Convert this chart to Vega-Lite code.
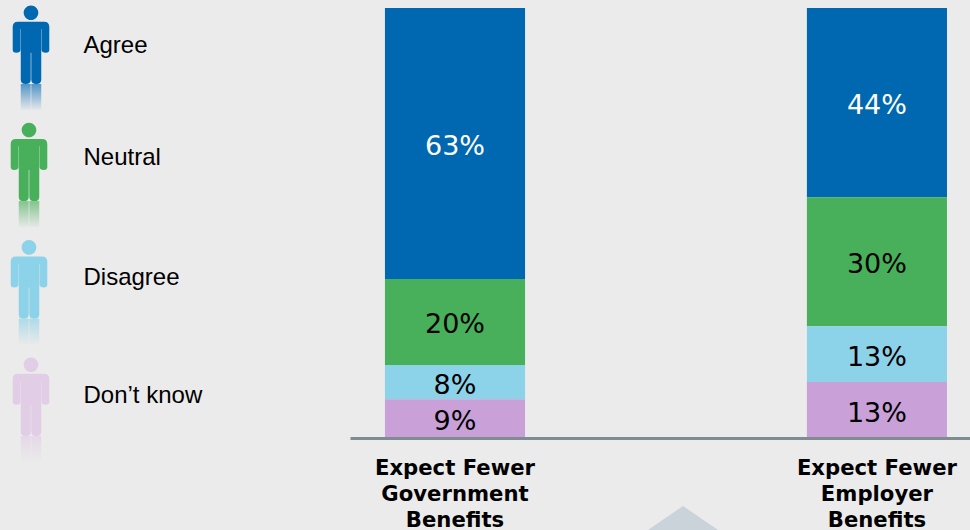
{
  "$schema": "https://vega.github.io/schema/vega-lite/v6.json",
  "background": "#ebebeb",
  "padding": {"left": 0, "right": 0, "top": 5, "bottom": 0},
  "config": {"view": {"stroke": null}},
  "spacing": 0,
  "datasets": {
    "responses": [
      {"response": "Agree", "rank": 1},
      {"response": "Neutral", "rank": 2},
      {"response": "Disagree", "rank": 3},
      {"response": "Don’t know", "rank": 4}
    ],
    "survey": [
      {"benefit": "Expect Fewer|Government|Benefits", "response": "Agree", "rank": 1, "share": 0.63},
      {"benefit": "Expect Fewer|Government|Benefits", "response": "Neutral", "rank": 2, "share": 0.20},
      {"benefit": "Expect Fewer|Government|Benefits", "response": "Disagree", "rank": 3, "share": 0.08},
      {"benefit": "Expect Fewer|Government|Benefits", "response": "Don’t know", "rank": 4, "share": 0.09},
      {"benefit": "Expect Fewer|Employer|Benefits", "response": "Agree", "rank": 1, "share": 0.44},
      {"benefit": "Expect Fewer|Employer|Benefits", "response": "Neutral", "rank": 2, "share": 0.30},
      {"benefit": "Expect Fewer|Employer|Benefits", "response": "Disagree", "rank": 3, "share": 0.13},
      {"benefit": "Expect Fewer|Employer|Benefits", "response": "Don’t know", "rank": 4, "share": 0.13}
    ]
  },
  "hconcat": [
    {
      "width": 350,
      "height": 430,
      "data": {"name": "responses"},
      "layer": [
        {
          "encoding": {
            "x": {"field": "rank", "type": "quantitative", "axis": null, "scale": {"domain": [1, 2, 3, 4], "range": [31, 29, 29, 31]}},
            "y": {"field": "rank", "type": "quantitative", "axis": null, "scale": {"domain": [1, 2, 3, 4], "range": [37, 154.3, 271.7, 389]}},
            "color": {
              "field": "response",
              "type": "nominal",
              "legend": null,
              "scale": {
                "domain": ["Agree", "Neutral", "Disagree", "Don’t know"],
                "range": ["#0067b1", "#48b05a", "#8cd2e9", "#e1cde5"]
              }
            }
          },
          "layer": [
            {
              "mark": {
                "type": "point",
                "filled": true,
                "opacity": 1,
                "size": 4,
                "shape": "M-7.3,-32.3a7.3,7.3 0 1,0 14.6,0a7.3,7.3 0 1,0 -14.6,0ZM-13,-23.3L13,-23.3Q18.3,-23.3 18.3,-18L18.3,4.7Q18.3,7.7 14.8,7.7Q10.6,7.7 10.6,4.7L10.6,-16L10.25,-16L10.25,34.5Q10.25,39 5.3,39Q0.3,39 0.3,34.5L0.3,7.7L-0.3,7.7L-0.3,34.5Q-0.3,39 -5.3,39Q-10.25,39 -10.25,34.5L-10.25,-16L-10.6,-16L-10.6,4.7Q-10.6,7.7 -14.8,7.7Q-18.3,7.7 -18.3,4.7L-18.3,-18Q-18.3,-23.3 -13,-23.3Z"
              }
            },
            {
              "mark": {
                "type": "point",
                "filled": true,
                "opacity": 1,
                "size": 4,
                "shape": "M-10.25,39L-0.3,39L-0.3,65L-10.25,65ZM0.3,39L10.25,39L10.25,65L0.3,65Z"
              }
            },
            {
              "mark": {
                "type": "point",
                "filled": true,
                "opacity": 1,
                "size": 4,
                "shape": "M-11,39L11,39L11,66L-11,66Z",
                "fill": {
                  "gradient": "linear",
                  "x1": 0, "y1": 0, "x2": 0, "y2": 1,
                  "stops": [
                    {"offset": 0, "color": "rgba(235,235,235,0.35)"},
                    {"offset": 1, "color": "rgba(235,235,235,1)"}
                  ]
                }
              },
              "encoding": {"color": {"value": null}}
            }
          ]
        },
        {
          "mark": {"type": "text", "font": "Liberation Sans", "fontSize": 24, "align": "left", "baseline": "middle", "color": "#000000"},
          "encoding": {
            "x": {"datum": 83.5, "type": "quantitative", "axis": null, "scale": {"domain": [0, 350], "range": [0, 350]}},
            "y": {"field": "rank", "type": "quantitative", "axis": null, "scale": {"domain": [1, 2, 3, 4], "range": [38, 150, 270, 388]}},
            "text": {"field": "response", "type": "nominal"}
          }
        }
      ],
      "resolve": {"scale": {"x": "independent", "y": "independent", "color": "independent"}}
    },
    {
      "width": 620,
      "height": 430,
      "layer": [
        {
          "data": {"values": [{"marker": "pointer"}]},
          "mark": {
            "type": "point",
            "filled": true,
            "opacity": 1,
            "size": 4,
            "color": "#c9d3d9",
            "shape": "M0,-12L35,12L-35,12Z"
          },
          "encoding": {
            "x": {"datum": 333, "type": "quantitative", "axis": null, "scale": {"domain": [0, 620], "range": [0, 620]}},
            "y": {"datum": -0.186, "type": "quantitative", "axis": null, "scale": {"domain": [0, 1]}}
          }
        },
        {
          "data": {"name": "survey"},
          "encoding": {
            "x": {
              "field": "benefit",
              "type": "nominal",
              "sort": null,
              "scale": {
                "domain": ["Expect Fewer|Government|Benefits", "Expect Fewer|Employer|Benefits"],
                "paddingInner": 0.668,
                "paddingOuter": 0.0687,
                "align": 0.603
              },
              "axis": {
                "title": null,
                "labelAngle": 0,
                "ticks": false,
                "domainColor": "#7f8c92",
                "domainWidth": 3,
                "labelFont": "DejaVu Sans",
                "labelFontWeight": "bold",
                "labelFontSize": 21.2,
                "labelColor": "#000000",
                "labelLineHeight": 26,
                "labelPadding": 19,
                "labelBaseline": "top",
                "labelExpr": "split(datum.label, '|')",
                "zindex": 1
              }
            }
          },
          "layer": [
            {
              "mark": {"type": "bar", "opacity": 1},
              "encoding": {
                "y": {"field": "share", "type": "quantitative", "stack": "zero", "axis": null, "scale": {"domain": [0, 1]}},
                "order": {"field": "rank", "sort": "descending"},
                "color": {
                  "field": "response",
                  "type": "nominal",
                  "legend": null,
                  "scale": {
                    "domain": ["Agree", "Neutral", "Disagree", "Don’t know"],
                    "range": ["#0067b1", "#48b05a", "#8cd2e9", "#c9a1d8"]
                  }
                }
              }
            },
            {
              "mark": {"type": "text", "font": "DejaVu Sans", "fontSize": 27, "baseline": "middle", "dy": 3.5},
              "encoding": {
                "y": {"field": "share", "type": "quantitative", "stack": "zero", "bandPosition": 0.5, "axis": null, "scale": {"domain": [0, 1]}},
                "order": {"field": "rank", "sort": "descending"},
                "text": {"field": "share", "type": "quantitative", "format": ".0%"},
                "color": {
                  "condition": {"test": "datum.response === 'Agree'", "value": "#ffffff"},
                  "value": "#000000"
                }
              }
            }
          ]
        }
      ],
      "resolve": {"scale": {"x": "independent"}}
    }
  ],
  "resolve": {"scale": {"color": "independent"}}
}
